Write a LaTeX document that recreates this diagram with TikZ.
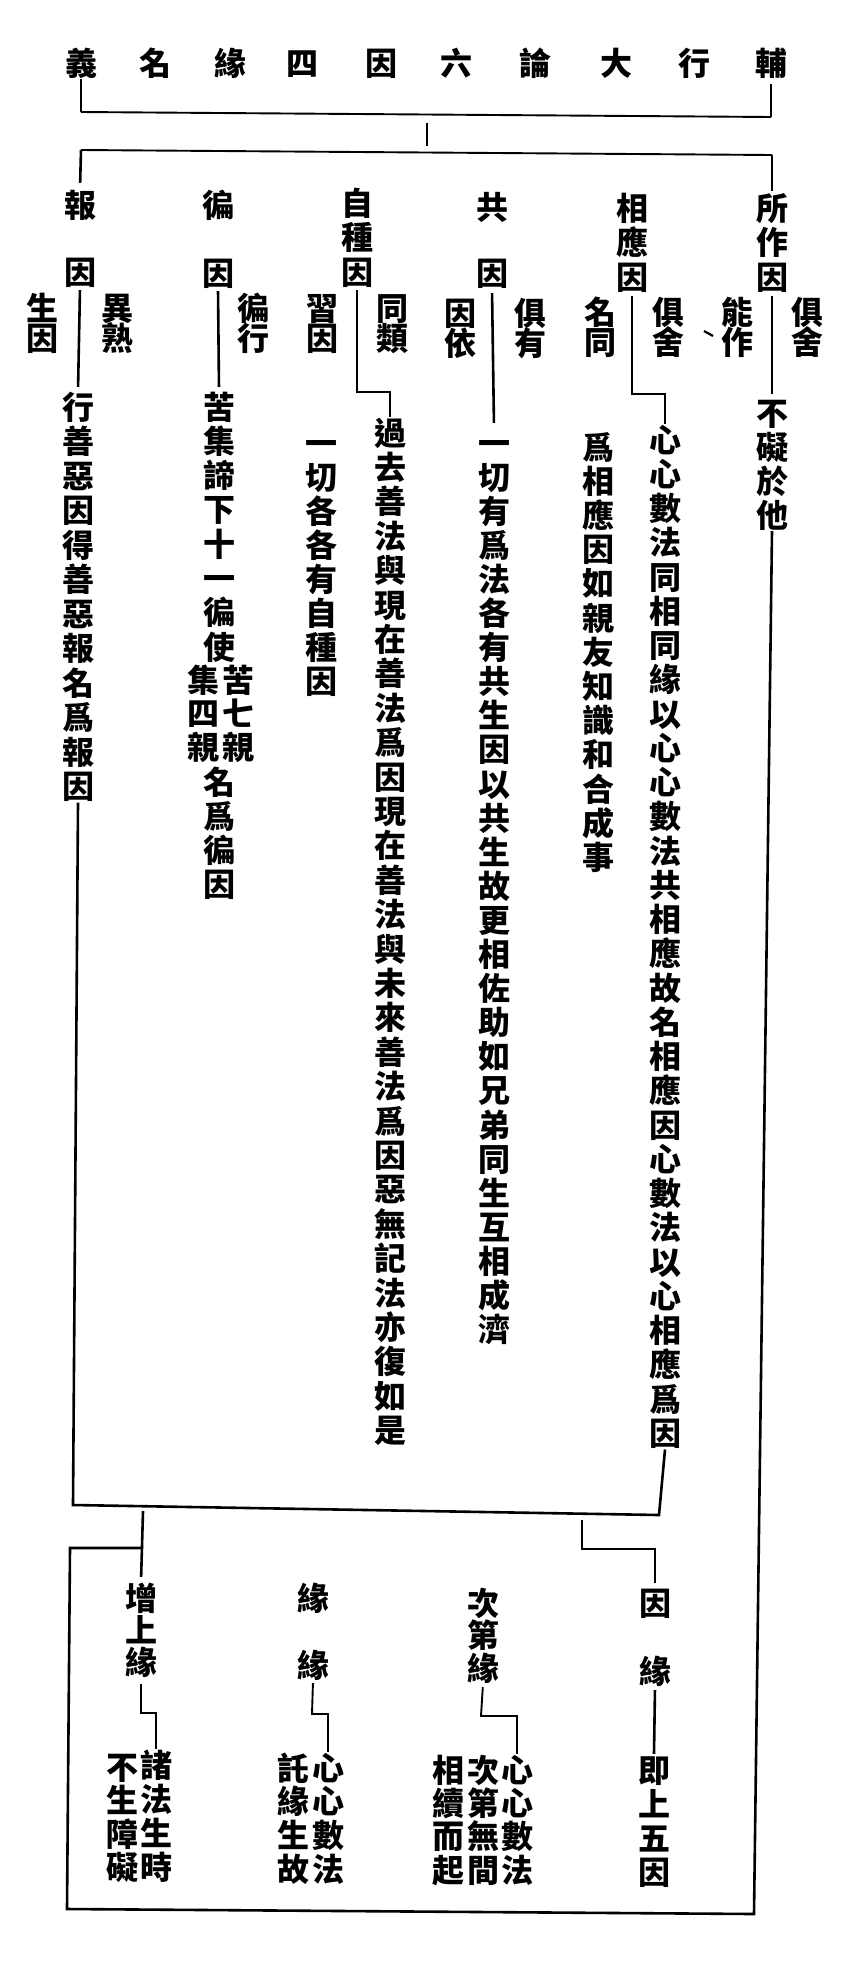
\documentclass[tikz,border=0pt]{standalone}
\usepackage{fontspec}
\newfontfamily\cjk{Noto Sans CJK TC}
\tikzset{
  ch/.style={font=\cjk\bfseries\fontsize{32}{32}\selectfont, inner sep=0pt, text height=28pt, text depth=4pt},
  ln/.style={line width=2.6pt},
  thin/.style={line width=1.9pt},
}
\newcommand\vcol[5]{%
  \foreach \chr [count=\i] in {#5}{\node[ch] (#1-\i) at (#2,{#3+(\i-1)*#4}) {\chr};}%
}
\begin{document}
\begin{tikzpicture}[x=1pt,y=-1pt]
\fill[white] (0,0) rectangle (846,1974);
\useasboundingbox (0,0) rectangle (846,1974);

% ---------- title (read right to left) ----------
\node[ch] (t1) at (771,63) {輔};
\node[ch] (t2) at (694,63) {行};
\node[ch] (t3) at (616,63) {大};
\node[ch] (t4) at (535,63) {論};
\node[ch] (t5) at (456,63) {六};
\node[ch] (t6) at (381,63) {因};
\node[ch] (t7) at (302,63) {四};
\node[ch] (t8) at (230,63) {緣};
\node[ch] (t9) at (155,63) {名};
\node[ch] (t10) at (81,63) {義};

\coordinate (a1) at (81,112);
\coordinate (a2) at (771,117);
\coordinate (m1) at (427,123);
\coordinate (m2) at (427,146);
\coordinate (c1) at (81,150);
\coordinate (c2) at (772,155);

% ---------- six causes: headings ----------
\node[ch] (bao-1) at (80,205) {報};
\node[ch] (bao-2) at (80,272) {因};
\node[ch] (bian-1) at (218,205) {徧};
\node[ch] (bian-2) at (218,273) {因};
\vcol{zi}{357}{203}{34.5}{自,種,因}
\node[ch] (gong-1) at (492,207) {共};
\node[ch] (gong-2) at (492,273) {因};
\vcol{xy}{632}{208}{34.5}{相,應,因}
\vcol{suo}{772}{208}{34.5}{所,作,因}

% ---------- side names ----------
\vcol{an1}{117}{308}{30}{異,熟}
\vcol{an2}{43}{308}{30}{生,因}
\vcol{an3}{253}{308}{30}{徧,行}
\vcol{an4}{392}{308}{30}{同,類}
\vcol{an5}{322}{308}{30}{習,因}
\vcol{an6}{530}{313}{30}{俱,有}
\vcol{an7}{460}{313}{30}{因,依}
\vcol{an8}{668}{312}{30}{俱,舍}
\vcol{an9}{600}{312}{30}{名,同}
\vcol{an10}{807}{312}{30}{俱,舍}
\vcol{an11}{737}{312}{30}{能,作}
\draw[line width=2.2pt] (704,331) -- (713,336);

% ---------- explanations ----------
\vcol{baot}{78}{407}{34.5}{行,善,惡,因,得,善,惡,報,名,爲,報,因}
\vcol{biant}{219}{407}{34.3}{苦,集,諦,下,十,一,徧,使}
\vcol{bianr}{238}{680}{33.5}{苦,七,親}
\vcol{bianl}{203}{680}{33.5}{集,四,親}
\vcol{biane}{219}{782}{34}{名,爲,徧,因}
\vcol{zit}{321}{443}{34}{一,切,各,各,有,自,種,因}
\vcol{guo}{390}{433}{34.4}{過,去,善,法,與,現,在,善,法,爲,因,現,在,善,法,與,未,來,善,法,爲,因,惡,無,記,法,亦,復,如,是}
\vcol{gongt}{494}{443}{34.1}{一,切,有,爲,法,各,有,共,生,因,以,共,生,故,更,相,佐,助,如,兄,弟,同,生,互,相,成,濟}
\vcol{xyt1}{598}{447}{34.2}{爲,相,應,因,如,親,友,知,識,和,合,成,事}
\vcol{xyt2}{665}{440}{34.25}{心,心,數,法,同,相,同,緣,以,心,心,數,法,共,相,應,故,名,相,應,因,心,數,法,以,心,相,應,爲,因}
\vcol{suot}{772}{413}{34}{不,礙,於,他}

% ---------- four conditions ----------
\vcol{zeng}{141}{1598}{32}{增,上,緣}
\node[ch] (yy-1) at (313,1598) {緣};
\node[ch] (yy-2) at (313,1665) {緣};
\vcol{cd}{483}{1603}{32.5}{次,第,緣}
\node[ch] (yin-1) at (655,1603) {因};
\node[ch] (yin-2) at (655,1671) {緣};

\vcol{zt1}{156}{1765}{34}{諸,法,生,時}
\vcol{zt2}{122}{1767}{33.5}{不,生,障,礙}
\vcol{yt1}{328}{1768}{33.7}{心,心,數,法}
\vcol{yt2}{293}{1768}{33.7}{託,緣,生,故}
\vcol{ct1}{517}{1770}{33.4}{心,心,數,法}
\vcol{ct2}{483}{1770}{33.4}{次,第,無,間}
\vcol{ct3}{448}{1770}{33.4}{相,續,而,起}
\vcol{yint}{654}{1770}{34}{即,上,五,因}

\coordinate (zc1) at (357,392);
\coordinate (zc2) at (390,392);
\coordinate (xc1) at (632,394);
\coordinate (xc2) at (665,394);
\coordinate (L1) at (73,1505);
\coordinate (R1) at (659,1515);
\coordinate (B1) at (754,1914);
\coordinate (B2) at (67,1909);
\coordinate (B3) at (70,1548);
\coordinate (B4) at (143,1548);
\coordinate (Z0) at (143,1511);
\coordinate (Y0) at (582,1520);
\coordinate (Y1) at (582,1549);
\coordinate (Y2) at (655,1549);
\coordinate (zb1) at (141,1713);
\coordinate (zb2) at (156,1713);
\coordinate (yb1) at (312,1714);
\coordinate (yb2) at (328,1714);
\coordinate (cb1) at (481,1716);
\coordinate (cb2) at (517,1716);

% ---------- connectors ----------
\draw[ln] (t10.south) -- (a1);
\draw[thin] (a1) -- (a2);
\draw[ln,shorten <=5pt] (t1.south) -- (a2);
\draw[ln] (m1) -- (m2);
\draw[thin] (c1) -- (c2);
\draw[ln,shorten >=6pt] (c1) -- (bao-1.north);
\draw[ln,shorten >=1pt] (c2) -- (suo-1.north);

\draw[ln,shorten <=2pt,shorten >=4pt] (bao-2.south) -- (baot-1.north);
\draw[ln,shorten <=2pt,shorten >=4pt] (bian-2.south) -- (biant-1.north);
\draw[ln,shorten <=2pt] (zi-3.south) -- (zc1) -- (zc2) -- (guo-1.north);
\draw[ln,shorten <=4pt,shorten >=4pt] (gong-2.south) -- (gongt-1.north);
\draw[ln,shorten <=3pt] (xy-3.south) -- (xc1) -- (xc2) -- (xyt2-1.north);
\draw[ln,shorten <=3pt,shorten >=3pt] (suo-3.south) -- (suot-1.north);

\draw[ln] (baot-12.south) -- (L1) -- (R1) -- (xyt2-30.south);
\draw[ln] (suot-4.south) -- (B1) -- (B2) -- (B3) -- (B4);
\draw[ln,shorten >=5pt] (Z0) -- (zeng-1.north);
\draw[ln,shorten >=4pt] (Y0) -- (Y1) -- (Y2) -- (yin-1.north);

\draw[thin,shorten <=6pt] (zeng-3.south) -- (zb1) -- (zb2) -- (zt1-1.north);
\draw[thin,shorten <=2pt] (yy-2.south) -- (yb1) -- (yb2) -- (yt1-1.north);
\draw[thin,shorten <=3pt] (cd-3.south) -- (cb1) -- (cb2) -- (ct1-1.north);
\draw[ln,shorten <=3pt] (yin-2.south) -- (yint-1.north);
\end{tikzpicture}
\end{document}
